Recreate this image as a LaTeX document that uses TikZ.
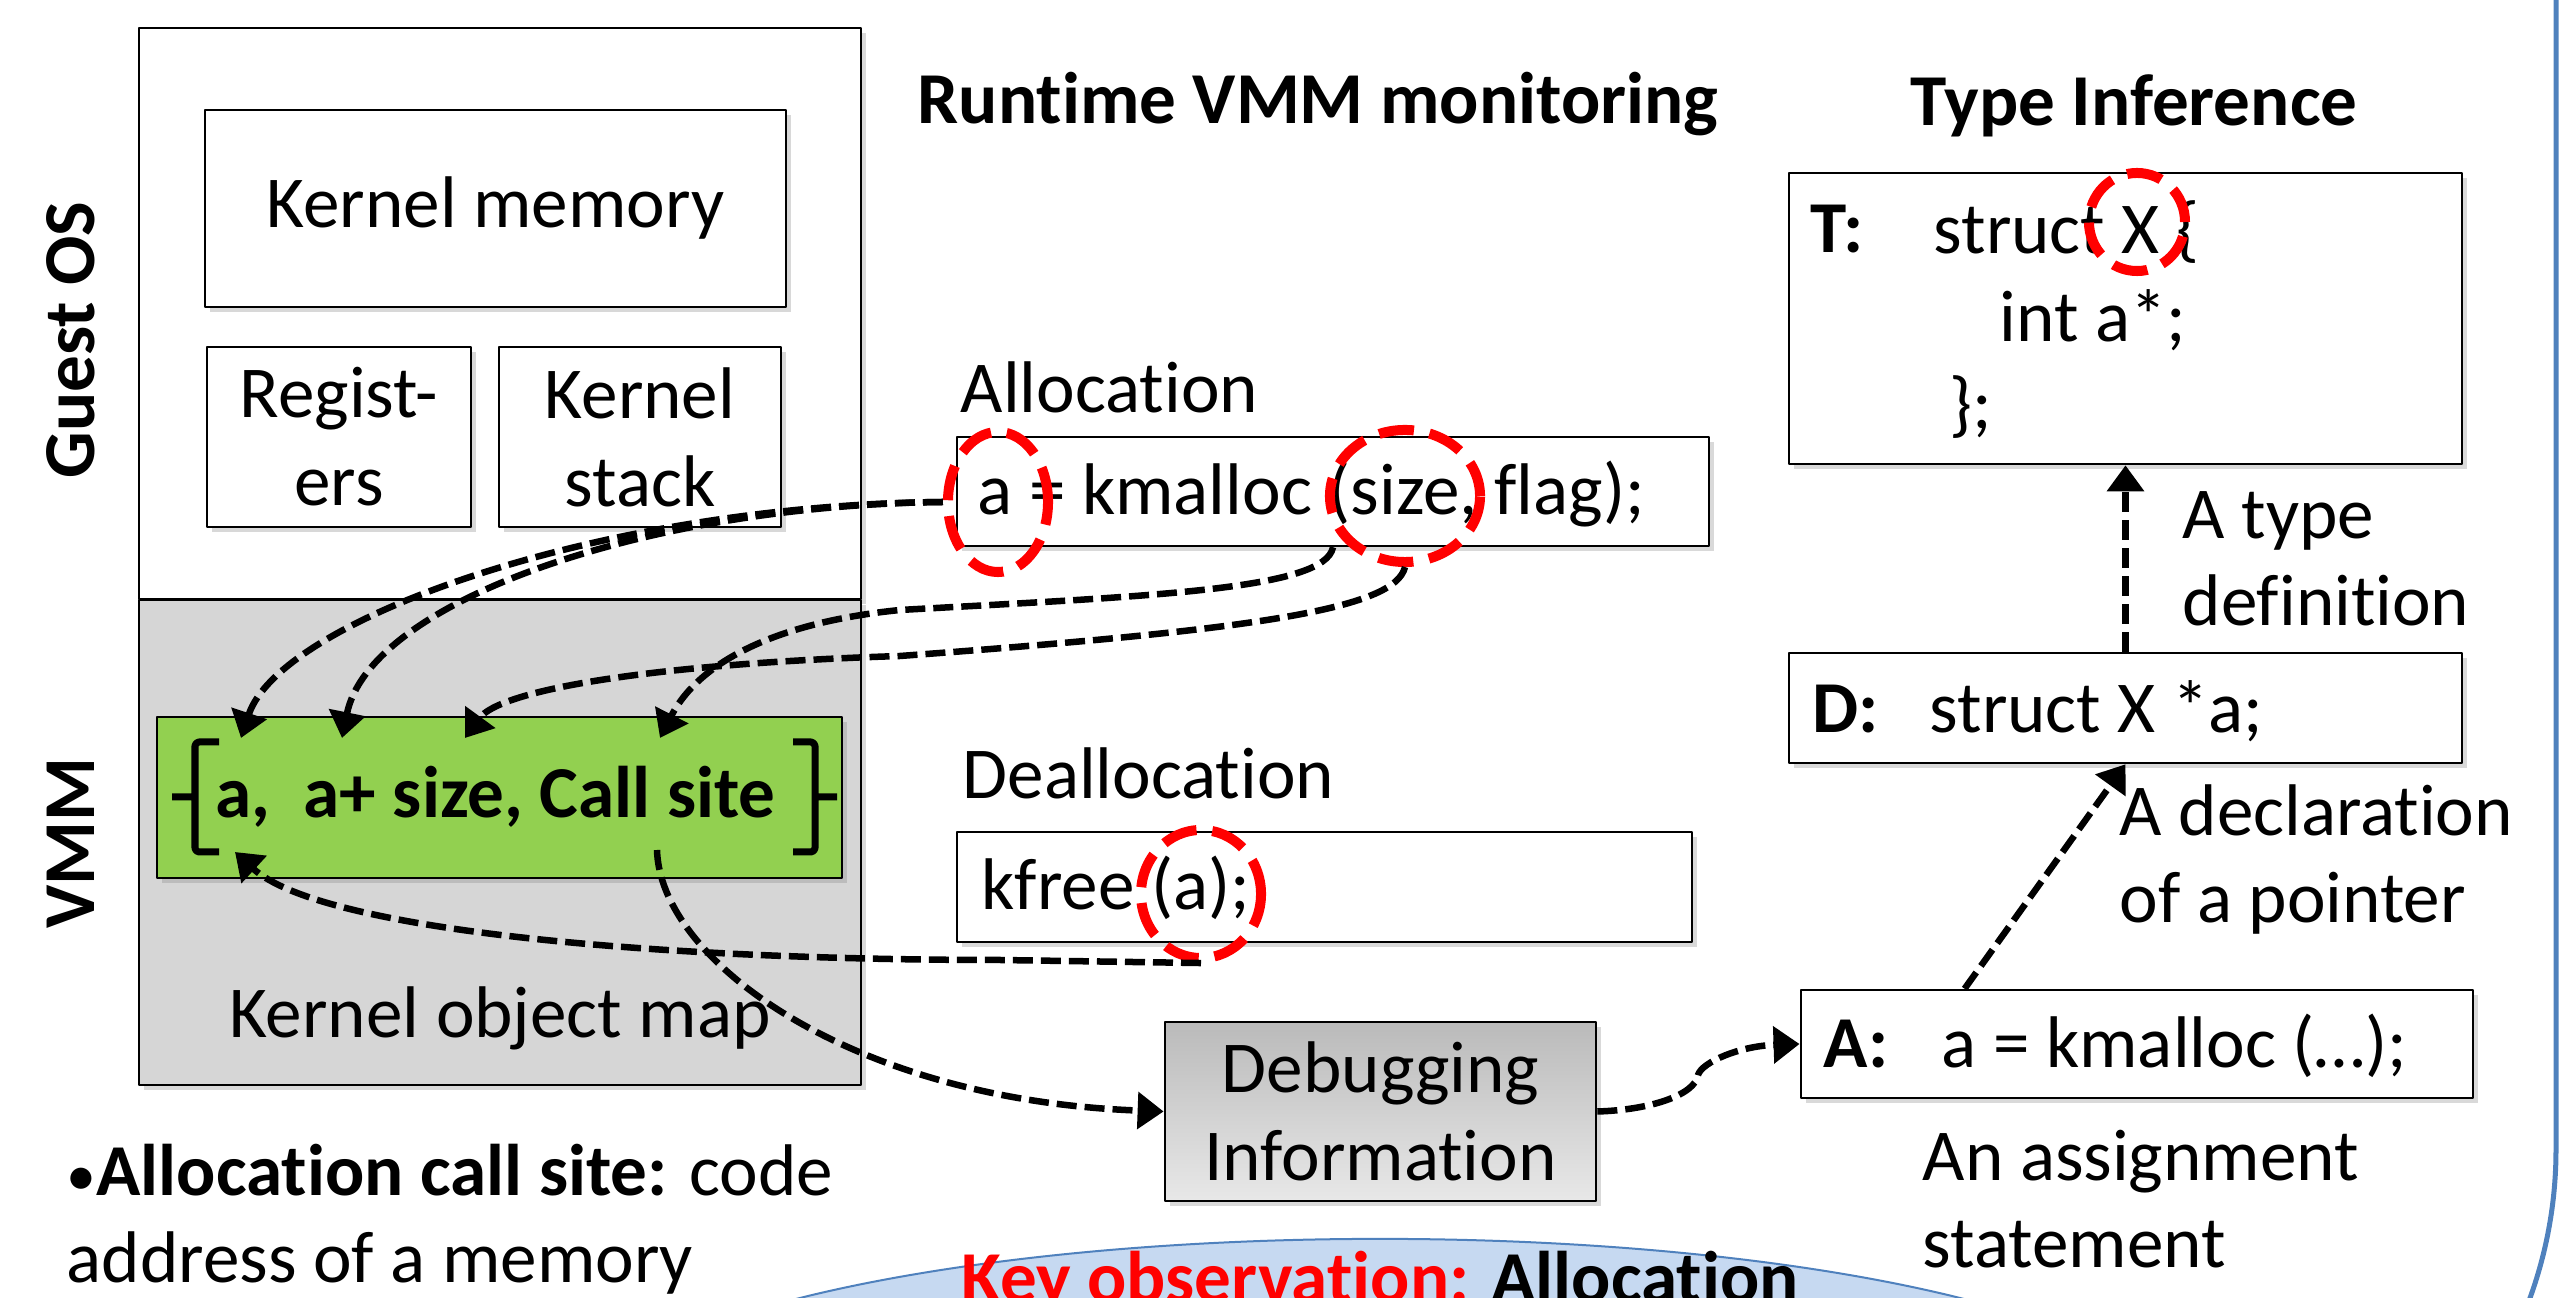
\documentclass[tikz,border=0pt]{standalone}
\usepackage{fontspec}
\setmainfont{Carlito}[Ligatures=NoCommon]
\usetikzlibrary{arrows.meta,shapes.geometric,shadows}
\definecolor{mapgreen}{HTML}{92D050}
\definecolor{frameblue}{HTML}{4F81BD}
\definecolor{keyblue}{HTML}{C6D9F1}

\begin{document}
\begin{tikzpicture}[x=0.01cm, y=-0.01cm, line join=round,
    font=\fontsize{20.8}{25}\selectfont,
    box/.style={draw=black, line width=0.7pt, fill=white, inner sep=0pt, align=center,
      drop shadow={opacity=0.3, shadow xshift=0.05cm, shadow yshift=-0.05cm}},
    txt/.style={inner sep=0pt, anchor=base west, align=left},
    bftxt/.style={txt, font=\fontsize{20.8}{25}\selectfont\bfseries},
    ring/.style={ellipse, draw=red, line width=0.1cm, dash pattern=on 10pt off 4.5pt, inner sep=0pt},
    flow/.style={line width=0.065cm, dash pattern=on 0.2cm off 0.08cm,
      -{Triangle[length=0.26cm, width=0.36cm]}}]
  \useasboundingbox (0,0) rectangle (2559,1298);

  % 1. slide frame and key observation
  \draw[frameblue, line width=0.05cm] (2556,0) -- (2556,1150) arc[start angle=0, end angle=-22, radius=4.34cm];
  \node[ellipse, draw=frameblue, line width=0.02cm, fill=keyblue, minimum width=16cm, minimum height=3.8cm] (keyobs) at (1380,1429) {};
  \node[bftxt, anchor=base] (keytxt) at (1380,1303) {\textcolor{red}{Key observation:} Allocation};

  % 2. guest OS and VMM
  \node[box, minimum width=7.22cm, minimum height=5.71cm] (guest) at (500,313.5) {};
  \node[box, minimum width=5.81cm, minimum height=1.97cm] (kmem) at (495.5,208.5) {Kernel memory};
  \node[box, minimum width=2.64cm, minimum height=1.80cm] (regs) at (339,437) {Regist-\\ers};
  \node[box, minimum width=2.82cm, minimum height=1.80cm] (kstack) at (640,437) {Kernel\\stack};
  \node[box, top color=black!16, middle color=black!9, bottom color=black!16,
    minimum width=7.22cm, minimum height=4.85cm] (vmm) at (500,842.5) {};
  \node[box, fill=mapgreen, minimum width=6.85cm, minimum height=1.61cm] (map) at (499.5,797.5) {};
  \node[bftxt] (maptxt) at (215,818) {a,\ \ a+ size, Call site};
  \draw[line width=0.07cm, rounded corners=0.04cm] (219,742) -- (195,742) -- (195,852) -- (219,852) (172,797) -- (195,797);
  \draw[line width=0.07cm, rounded corners=0.04cm] (793,742) -- (815,742) -- (815,852) -- (793,852) (815,797) -- (837,797);
  \node[txt, anchor=base] (maplbl) at (500,1038) {Kernel object map};
  \node[bftxt, rotate=90, anchor=base] (guestlbl) at (94,340) {Guest OS};
  \node[bftxt, rotate=90, anchor=base] (vmmlbl) at (94,843) {VMM};
  % multi-line texts sit on their last baseline
  \node[txt] (callnote) at (66,1283) {{\fontsize{17}{17}\selectfont •}\textbf{Allocation call site:} code\\address of a memory};

  % 3. runtime monitoring
  \node[bftxt, anchor=base] (rtitle) at (1318,124) {Runtime VMM monitoring};
  \node[txt] (alloclbl) at (960,413) {Allocation};
  \node[box, minimum width=7.52cm, minimum height=1.09cm] (alloc) at (1333,491.5) {};
  \node[txt] (alloctxt) at (977,515) {a = kmalloc (size, flag);};
  \node[txt] (dealloclbl) at (962,799) {Deallocation};
  \node[box, minimum width=7.35cm, minimum height=1.10cm] (dealloc) at (1324.5,887) {};
  \node[txt] (dealloctxt) at (981,910) {kfree (a);};
  \node[box, top color=black!27, bottom color=black!9, minimum width=4.31cm, minimum height=1.79cm] (debug) at (1380.5,1111.5) {Debugging\\Information};

  % 4. type inference
  \node[bftxt, anchor=base] (ttitle) at (2134,126) {Type Inference};
  \node[box, minimum width=6.73cm, minimum height=2.91cm] (tbox) at (2125.5,318.5) {};
  \node[bftxt] (tlbl) at (1810,253) {T:};
  \node[txt] (tcode) at (1933,429) {struct X \{\\\hspace*{0.66cm}int a*;\\\hspace*{0.16cm}\};};
  \node[box, minimum width=6.73cm, minimum height=1.10cm] (dbox) at (2125.5,708) {};
  \node[bftxt] (dlbl) at (1812,733) {D:};
  \node[txt] (dcode) at (1929,733) {struct X *a;};
  \node[box, minimum width=6.72cm, minimum height=1.08cm] (abox) at (2137,1044) {};
  \node[bftxt] (albl) at (1823,1068) {A:};
  \node[txt] (acode) at (1941,1068) {a = kmalloc (…);};
  \node[txt] (tnote) at (2182,626) {A type\\definition};
  \node[txt] (dnote) at (2119,923) {A declaration\\of a pointer};
  \node[txt] (anote) at (1922,1268) {An assignment\\statement};

  % 5. red marks
  \node[ring, minimum width=1.0cm, minimum height=1.4cm] (aring) at (998,502) {};
  \node[ring, minimum width=1.5cm, minimum height=1.32cm] (sizering) at (1405,496) {};
  \node[ring, minimum width=1.2cm, minimum height=1.28cm] (fring) at (1201,894) {};
  \node[ring, minimum width=0.96cm, minimum height=0.98cm] (xring) at (2137,222) {};

  % 6. dashed connectors
  \coordinate (pa) at (241,738);
  \coordinate (pas) at (342,738);
  \coordinate (psize) at (465,738);
  \coordinate (pcall) at (660,738);
  \coordinate (pback) at (235,852);
  \coordinate (pcallout) at (657,850);
  \draw[flow] (aring.west) .. controls (600,505) and (280,620) .. (pa);
  \draw[flow] (aring.west) .. controls (650,505) and (370,600) .. (pas);
  \draw[flow] (alloc.south) .. controls (1325,590) and (1150,596) .. (900,610)
    .. controls (780,622) and (700,660) .. (pcall);
  \draw[flow] (sizering.south) .. controls (1395,610) and (1250,630) .. (900,656)
    .. controls (650,664) and (500,690) .. (psize);
  \draw[flow] (fring.south) -- (1000,960) .. controls (650,960) and (320,930) .. (pback);
  \draw[flow] (pcallout) .. controls (660,960) and (850,1100) .. (debug.west);
  \draw[flow] (debug.east) .. controls (1650,1110) and (1695,1095) .. (1698,1075)
    .. controls (1702,1062) and (1740,1046) .. (abox.west);
  \draw[flow] (abox.north west) ++(165,0) -- (dbox.south);
  \draw[flow] (dbox.north) -- (tbox.south);
\end{tikzpicture}
\end{document}
